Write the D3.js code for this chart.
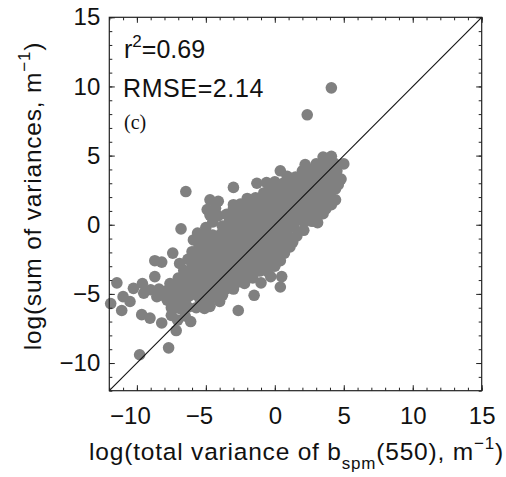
<!DOCTYPE html>
<html><head><meta charset="utf-8">
<script src="https://cdn.jsdelivr.net/npm/d3@7"></script>
<style>
html,body{margin:0;padding:0;background:#fff;}
svg{display:block;font-family:"Liberation Sans",Arial,Helvetica,sans-serif;}
</style></head><body>
<svg id="chart" width="506" height="477"></svg>
<script>
// ---- data ----
const axisDomain = [-12, 15];
const majorTicks = [-10, -5, 0, 5, 10, 15];
const minorTicks = [-12,-11,-10,-9,-8,-7,-6,-5,-4,-3,-2,-1,0,1,2,3,4,5,6,7,8,9,10,11,12,13,14,15];
const statR2 = "0.69";
const statRMSE = "2.14";
const panelLabel = "(c)";
const outlierPoints = [[4.1,9.9],[2.35,7.95]];
const upperCloud = [
 [3.5,4.9],[4.1,4.95],
 [2.2,4.35],[3.0,4.4],[3.6,4.5],[4.3,4.45],[5.0,4.4],
 [0.4,3.9],[2.0,3.9],[2.6,4.0],[3.2,3.95],[3.85,4.0],[4.5,3.9],
 [0.9,3.5],[1.5,3.45],[2.1,3.55],[2.7,3.5],[3.3,3.45],[3.9,3.55],[4.5,3.5],[4.8,3.3],
 [-1.3,3.0],[-0.6,3.05],[0.0,3.1],[0.6,3.0],[1.2,3.1],[1.8,3.0],[2.4,3.05],[3.0,3.1],[3.6,3.0],[4.2,3.05],[4.6,2.9],
 [-3.0,2.7],[-0.4,2.6],[0.2,2.65],[0.8,2.7],[1.4,2.6],[2.0,2.65],[2.6,2.7],[3.2,2.6],[3.8,2.65],[4.4,2.6],
 [-6.45,2.4],[-0.8,2.3],[-0.2,2.25],[0.4,2.3],[1.0,2.25],[1.6,2.3],[2.2,2.2],[2.8,2.3],[3.4,2.25],[4.0,2.3],
 [-2.0,1.9],[-1.4,1.95],[-0.8,1.85],[-0.2,1.9],[0.4,1.95],[1.0,1.85],[1.6,1.9],[2.2,1.95],[2.8,1.85],[3.4,1.9],[3.9,1.95],[4.4,1.8],
 [-4.7,1.8],[-4.1,1.7],[-3.0,1.45],[-2.5,1.5],[-1.9,1.55],[-1.3,1.5],[-0.7,1.6],[-0.1,1.5],[0.5,1.55],[1.1,1.5],[1.7,1.6],[2.3,1.5],[2.9,1.55],[3.5,1.5],[4.1,1.45],
 [-4.9,1.1],[-4.3,1.2],[-3.0,1.2],[-2.3,1.15],[-1.7,1.1],[-1.1,1.2],[-0.5,1.15],[0.1,1.1],[0.7,1.2],[1.3,1.15],[1.9,1.1],[2.5,1.2],[3.1,1.1],[3.7,1.15]
];
const middleCloud = [
 [-4.7,0.7],[-4.1,0.65],[-3.5,0.75],[-2.9,0.7],[-2.3,0.65],[-1.7,0.75],[-1.1,0.7],[-0.5,0.65],[0.1,0.75],[0.7,0.7],[1.3,0.65],[1.9,0.75],[2.5,0.7],[3.1,0.6],[3.5,0.8],
 [-4.5,0.2],[-3.8,-0.1],[-3.3,0.25],[-2.7,0.2],[-2.1,0.3],[-1.5,0.25],[-0.9,0.2],[-0.3,0.3],[0.3,0.2],[0.9,0.25],[1.5,0.3],[2.1,0.2],[2.7,0.25],[3.1,0.15],
 [-6.8,-0.3],[-5.0,-0.2],[-3.4,-0.3],[-2.8,-0.25],[-2.2,-0.2],[-1.6,-0.3],[-1.0,-0.25],[-0.4,-0.2],[0.2,-0.3],[0.8,-0.25],[1.4,-0.2],[2.1,-0.4],
 [-5.6,-0.6],[-5.1,-0.7],[-4.5,-0.75],[-3.9,-0.65],[-3.3,-0.7],[-2.7,-0.75],[-2.1,-0.65],[-1.5,-0.7],[-0.9,-0.75],[-0.3,-0.65],[0.3,-0.7],[0.9,-0.75],[1.6,-0.8],
 [-5.9,-1.1],[-5.3,-1.15],[-4.7,-1.2],[-4.1,-1.1],[-3.5,-1.15],[-2.9,-1.2],[-2.3,-1.1],[-1.7,-1.15],[-1.1,-1.2],[-0.5,-1.1],[0.1,-1.15],[0.7,-1.2],[1.3,-1.25],
 [-5.5,-1.6],[-4.9,-1.65],[-4.3,-1.55],[-3.7,-1.6],[-3.1,-1.65],[-2.5,-1.55],[-1.9,-1.6],[-1.3,-1.65],[-0.7,-1.55],[-0.1,-1.6],[0.5,-1.65],[1.1,-1.6],
 [-7.4,-2.05],[-6.0,-1.95],[-5.4,-2.1],[-4.8,-2.05],[-4.2,-2.0],[-3.6,-2.1],[-3.0,-2.05],[-2.4,-2.0],[-1.8,-2.1],[-1.2,-2.05],[-0.6,-2.0],[0.0,-2.1],[0.7,-2.05],
 [-8.7,-2.6],[-8.2,-2.7],[-6.9,-2.8],[-6.3,-2.5],[-5.7,-2.55],[-5.1,-2.6],[-4.5,-2.5],[-3.9,-2.55],[-3.3,-2.6],[-2.7,-2.5],[-2.1,-2.55],[-1.5,-2.6],[-0.9,-2.5],[-0.3,-2.55],[0.4,-2.6],
 [-6.0,-3.05],[-5.4,-3.0],[-4.8,-2.95],[-4.2,-3.05],[-3.6,-3.0],[-3.0,-2.95],[-2.4,-3.05],[-1.8,-3.0],[-1.2,-2.95],[-0.6,-3.05],[0.0,-3.0]
];
const lowerCloud = [
 [-6.6,-3.3],[-5.9,-3.45],[-5.3,-3.4],[-4.7,-3.35],[-4.1,-3.45],[-3.5,-3.4],[-2.9,-3.35],[-2.3,-3.45],[-1.7,-3.4],[-1.1,-3.35],[-0.5,-3.4],
 [-8.7,-3.75],[-7.0,-3.85],[-6.4,-3.9],[-5.8,-3.8],[-5.2,-3.85],[-4.6,-3.9],[-4.0,-3.8],[-3.4,-3.85],[-2.8,-3.9],[-2.2,-3.8],[-1.6,-3.85],[-0.3,-3.75],[0.5,-3.75],
 [-11.45,-4.2],[-9.6,-4.25],[-7.6,-4.25],[-7.0,-4.3],[-6.4,-4.2],[-5.8,-4.25],[-5.2,-4.3],[-4.6,-4.2],[-4.0,-4.25],[-3.4,-4.3],[-2.8,-4.2],[-2.2,-4.25],[-1.0,-4.2],[0.4,-4.5],
 [-10.25,-4.6],[-9.5,-4.95],[-9.0,-4.7],[-8.4,-4.65],[-7.8,-4.75],[-7.2,-4.7],[-6.6,-4.65],[-6.0,-4.75],[-5.4,-4.7],[-4.8,-4.65],[-4.2,-4.75],[-3.6,-4.7],[-3.0,-4.65],
 [-11.0,-5.2],[-8.55,-5.2],[-8.0,-5.15],[-7.4,-5.1],[-6.8,-5.2],[-6.2,-5.15],[-5.6,-5.1],[-5.0,-5.2],[-4.4,-5.15],[-3.8,-5.1],[-1.5,-5.1],
 [-11.9,-5.7],[-10.5,-5.55],[-7.8,-5.45],[-7.1,-5.6],[-6.5,-5.55],[-5.4,-5.45],[-4.8,-5.6],[-4.0,-5.55],
 [-11.1,-6.2],[-7.5,-6.0],[-6.9,-6.05],[-6.3,-5.95],[-5.7,-6.0],[-5.1,-6.05],[-4.7,-5.9],[-2.65,-6.2],
 [-9.65,-6.5],[-9.05,-6.75],[-7.5,-6.55],[-7.05,-6.9],[-6.5,-6.6],[-6.1,-7.0],
 [-8.2,-7.1],[-7.15,-7.65],
 [-7.7,-8.9],[-9.8,-9.4]
];

// ---- layout ----
const svg = d3.select("#chart");
const plotLeft = 109.3, plotRight = 481.7, plotTop = 17.3, plotBottom = 390.7;
const x = d3.scaleLinear().domain(axisDomain).range([plotLeft, plotRight]);
const y = d3.scaleLinear().domain(axisDomain).range([plotBottom, plotTop]);
const allPoints = outlierPoints.concat(upperCloud, middleCloud, lowerCloud);

svg.append("g").selectAll("circle").data(allPoints).join("circle")
  .attr("cx", d => x(d[0])).attr("cy", d => y(d[1])).attr("r", 5.8)
  .attr("fill", "#808080");

// 1:1 line
svg.append("line")
  .attr("x1", x(axisDomain[0])).attr("y1", y(axisDomain[0]))
  .attr("x2", x(axisDomain[1])).attr("y2", y(axisDomain[1]))
  .attr("stroke", "#111").attr("stroke-width", 1.1);

const fmt = d3.format("");
function styleAxis(g){
  g.select(".domain").remove();
  g.selectAll(".tick line").attr("stroke", "#222").attr("stroke-width", 1);
  g.selectAll("text").attr("fill", "#111").style("font-size", "24px");
}
// bottom
svg.append("g").attr("transform", `translate(0,${plotBottom})`)
  .call(d3.axisBottom(x).tickValues(minorTicks).tickSize(-3).tickFormat(""))
  .call(styleAxis);
svg.append("g").attr("transform", `translate(0,${plotBottom})`)
  .call(d3.axisBottom(x).tickValues(majorTicks).tickSize(-5.5).tickPadding(16).tickFormat(fmt))
  .call(styleAxis)
  .call(g => g.selectAll("text").attr("dx", d => d < 0 ? -7 : 0));
// top
svg.append("g").attr("transform", `translate(0,${plotTop})`)
  .call(d3.axisTop(x).tickValues(minorTicks).tickSize(-3).tickFormat(""))
  .call(styleAxis);
svg.append("g").attr("transform", `translate(0,${plotTop})`)
  .call(d3.axisTop(x).tickValues(majorTicks).tickSize(-5.5).tickFormat(""))
  .call(styleAxis);
// left
svg.append("g").attr("transform", `translate(${plotLeft},0)`)
  .call(d3.axisLeft(y).tickValues(minorTicks).tickSize(-3).tickFormat(""))
  .call(styleAxis);
svg.append("g").attr("transform", `translate(${plotLeft},0)`)
  .call(d3.axisLeft(y).tickValues(majorTicks).tickSize(-5.5).tickPadding(9).tickFormat(fmt))
  .call(styleAxis);
// right
svg.append("g").attr("transform", `translate(${plotRight},0)`)
  .call(d3.axisRight(y).tickValues(minorTicks).tickSize(-3).tickFormat(""))
  .call(styleAxis);
svg.append("g").attr("transform", `translate(${plotRight},0)`)
  .call(d3.axisRight(y).tickValues(majorTicks).tickSize(-5.5).tickFormat(""))
  .call(styleAxis);

// frame
svg.append("rect").attr("x", plotLeft).attr("y", plotTop)
  .attr("width", plotRight - plotLeft).attr("height", plotBottom - plotTop)
  .attr("fill", "none").attr("stroke", "#222").attr("stroke-width", 1.2);

// stats text
const t1 = svg.append("text").attr("x", 124).attr("y", 58).attr("fill", "#111").style("font-size", "25px");
t1.append("tspan").text("r");
t1.append("tspan").attr("dy", -11).style("font-size", "17px").text("2");
t1.append("tspan").attr("dy", 11).text("=" + statR2);
svg.append("text").attr("x", 123).attr("y", 97).attr("fill", "#111").style("font-size", "25px")
  .style("letter-spacing", "0.6px").text("RMSE=" + statRMSE);
svg.append("text").attr("x", 124).attr("y", 129).attr("fill", "#111")
  .style("font-family", "'Liberation Serif','Times New Roman',serif").style("font-size", "20px").text(panelLabel);

// x title
const xt = svg.append("text").attr("x", (plotLeft + plotRight) / 2 + 1).attr("y", 460)
  .attr("text-anchor", "middle").attr("fill", "#111").style("font-size", "24.5px").style("letter-spacing", "0.8px");
xt.append("tspan").text("log(total variance of b");
xt.append("tspan").attr("dy", 9).style("font-size", "17px").text("spm");
xt.append("tspan").attr("dy", -9).text("(550), m");
xt.append("tspan").attr("dy", -11).style("font-size", "17px").text("\u22121");
xt.append("tspan").attr("dy", 11).text(")");

// y title
const yt = svg.append("text").attr("transform", "translate(41,196) rotate(-90)")
  .attr("text-anchor", "middle").attr("fill", "#111").style("font-size", "24.5px").style("letter-spacing", "0.8px");
yt.append("tspan").text("log(sum of variances, m");
yt.append("tspan").attr("dy", -11).style("font-size", "17px").text("\u22121");
yt.append("tspan").attr("dy", 11).text(")");
</script>
</body></html>
